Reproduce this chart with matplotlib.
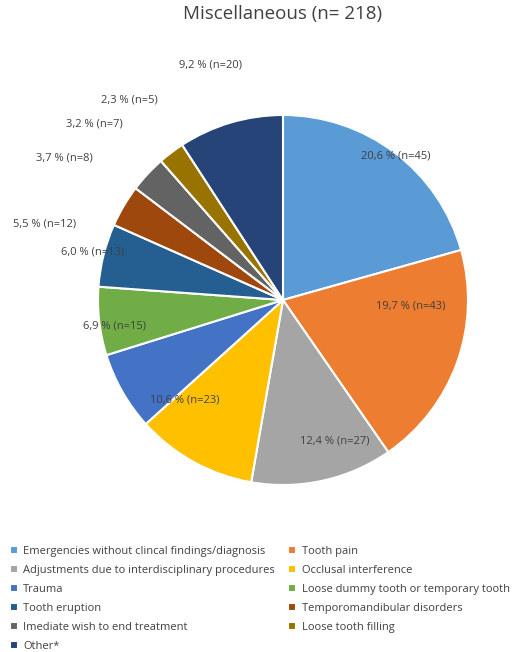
import matplotlib
matplotlib.use("Agg")
import matplotlib.pyplot as plt
import numpy as np

plt.rcParams['font.family'] = ['Open Sans', 'DejaVu Sans']

categories = ["Emergencies without clincal findings/diagnosis", "Tooth pain",
              "Adjustments due to interdisciplinary procedures", "Occlusal interference",
              "Trauma", "Loose dummy tooth or temporary tooth", "Tooth eruption",
              "Temporomandibular disorders", "Imediate wish to end treatment",
              "Loose tooth filling", "Other*"]
counts = [45, 43, 27, 23, 15, 13, 12, 8, 7, 5, 20]
pct_labels = ["20,6", "19,7", "12,4", "10,6", "6,9", "6,0", "5,5", "3,7", "3,2", "2,3", "9,2"]
colors = ["#5B9BD5", "#ED7D31", "#A5A5A5", "#FFC000", "#4472C4", "#70AD47",
          "#255E91", "#9E480E", "#636363", "#997300", "#264478"]
# label placement (in pie-radius units)
label_pos = [(0.61, 0.78), (0.69, -0.03), (0.28, -0.76), (-0.53, -0.54), (-0.91, -0.14),
             (-1.03, 0.26), (-1.29, 0.41), (-1.18, 0.77), (-1.02, 0.95), (-0.83, 1.08),
             (-0.39, 1.27)]

fig = plt.figure(figsize=(5.21, 6.52), dpi=100)
ax = fig.add_axes([(283-185)/521, 1-(300+185)/652, 370/521, 370/652])
wedges, _ = ax.pie(counts, colors=colors, startangle=90, counterclock=False,
                   wedgeprops=dict(edgecolor='white', linewidth=1.5))
for p, n, (x, y) in zip(pct_labels, counts, label_pos):
    ax.text(x, y, f"{p} % (n={n})", ha='center', va='center',
            fontsize=8, color='#404040')
ax.set_xlim(-1, 1); ax.set_ylim(-1, 1); ax.set_aspect('equal')

fig.text(283/521, 1-14/652, "Miscellaneous (n= 218)", ha='center', va='center',
         fontsize=13.5, color='#404040')

order = [0, 2, 4, 6, 8, 10, 1, 3, 5, 7, 9]
fig.legend([wedges[i] for i in order], [categories[i] for i in order], ncol=2,
           loc='upper left', bbox_to_anchor=(0.0, 1-536/652), frameon=False,
           fontsize=8, handlelength=0.7, handleheight=0.7, columnspacing=1.2,
           labelspacing=0.72, handletextpad=0.5, labelcolor='#404040')
fig.savefig("out.png", dpi=100)
